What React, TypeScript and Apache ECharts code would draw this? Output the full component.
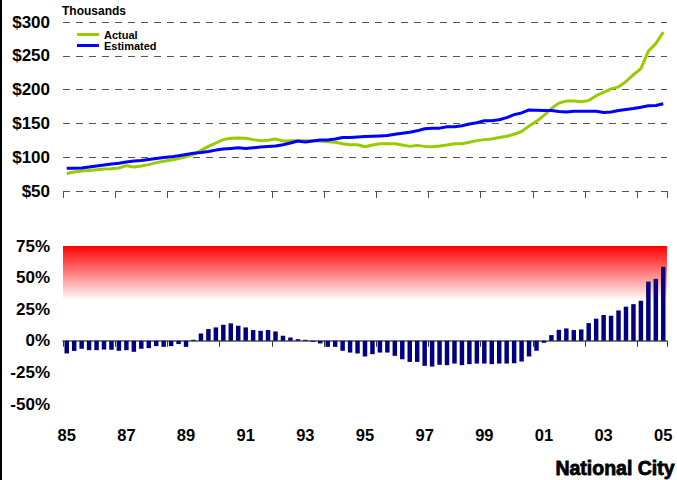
import React, { useEffect, useRef } from "react";
import * as echarts from "echarts";

const years = ["85","86","87","88","89","90","91","92","93","94","95","96","97","98","99","00","01","02","03","04","05"];
const quarters: string[] = [];
years.forEach((y, i) => {
  const n = i === years.length - 1 ? 1 : 4;
  for (let q = 1; q <= n; q++) quarters.push(`${y}Q${q}`);
});

const actual = [
  76, 78, 79.5, 80.5, 81.5, 82.5, 83, 84, 87.5, 85.5,
  87, 89, 92, 94, 96, 98, 100.5, 104, 110, 116,
  121, 126, 128, 128.5, 128, 126, 124.5, 125, 127, 124,
  124.5, 124.5, 124.5, 124.5, 124, 123, 122, 120, 118.5, 118.5,
  115.5, 118, 120, 120, 120, 118, 116, 117.5, 116, 115.5,
  116.5, 118, 120, 120, 122, 124.5, 126, 127, 129, 131,
  134, 138, 146, 153, 162, 172, 180, 183, 183, 182,
  184, 191, 196, 201, 204, 212, 222, 231, 257, 268,
  285,
];

const estimated = [
  83.5, 83.5, 84, 85.5, 87, 88.5, 90, 91, 93, 94.5,
  95, 96.5, 98, 99.5, 100.5, 102, 104, 106, 107, 108.5,
  110.5, 112, 113, 114, 113, 114, 115, 116, 116.5, 118.5,
  121, 124, 122.5, 124, 125.5, 125.5, 127, 129, 129, 130,
  130.5, 131, 131.5, 132, 134, 135.5, 137, 139, 142, 143,
  143, 145, 145, 146.5, 149, 151, 154, 154, 155.5, 158.5,
  163, 165.5, 170, 169.5, 169, 169, 167.5, 167, 168, 168,
  168, 168, 166, 167, 169, 170.5, 172, 174, 176, 176.5,
  179,
];

const gapPct = [
  -10, -8, -6.3, -7.4, -7.4, -6.9, -7.1, -7.9, -7.4, -8.7,
  -6.3, -5.8, -4.2, -4.8, -4.2, -2.6, -4.8, 0.8, 5.8, 9.3,
  10.6, 12.7, 13.8, 11.9, 10.6, 8.5, 7.9, 8.5, 7.4, 4,
  2.6, 1.3, 0.8, -0.8, -2.1, -4.8, -4.8, -7.9, -9.3, -10,
  -12.4, -10.6, -9.3, -9.3, -11.9, -14.6, -16.7, -16.7, -19.8, -20.4,
  -19, -19.3, -18, -19.3, -18.5, -18, -18, -18.5, -18, -18,
  -17.7, -16.4, -12.4, -7.9, -1.6, 4.5, 8.7, 9.8, 8.5, 9,
  14, 17.5, 20.4, 19.8, 24, 27, 29, 31.7, 46.8, 49,
  58.5,
];

const priceTicks = { min: 50, max: 300, interval: 50 };
const pctTicks = { min: -50, max: 75, interval: 25 };
const warningBand = [32, 75];

const FONT = "'Liberation Sans', Arial, sans-serif";

export default function App() {
  const ref = useRef<HTMLDivElement>(null);
  useEffect(() => {
    if (!ref.current) return;
    const chart = echarts.init(ref.current, null, { renderer: "svg" });
    const labelStyle = { color: "#000", fontFamily: FONT, fontWeight: "bold" as const, fontSize: 17 };
    chart.setOption({
      animation: false,
      backgroundColor: "#fff",
      textStyle: { fontFamily: FONT },
      grid: [
        { left: 63, right: 10, top: 22, height: 169 },
        { left: 63, right: 10, top: 246, height: 158 },
      ],
      legend: {
        orient: "vertical",
        left: 77,
        top: 29,
        itemWidth: 22,
        itemHeight: 3,
        itemGap: 0,
        padding: 0,
        icon: "rect",
        textStyle: { fontFamily: FONT, fontWeight: "bold", fontSize: 11, lineHeight: 11, color: "#000" },
        data: ["Actual", "Estimated"],
      },
      xAxis: [
        {
          type: "category",
          gridIndex: 0,
          data: quarters,
          boundaryGap: true,
          axisLine: { show: false },
          axisTick: { show: true, interval: 6, length: 7, lineStyle: { color: "#555" } },
          axisLabel: { show: false },
        },
        {
          type: "category",
          gridIndex: 1,
          data: quarters,
          position: "bottom",
          boundaryGap: true,
          axisLine: { show: true, onZero: true, lineStyle: { color: "#555", width: 1.5 } },
          axisTick: { show: true, interval: 6, length: 6, lineStyle: { color: "#333" } },
          axisLabel: { show: false },
        },
        {
          type: "category",
          gridIndex: 1,
          data: quarters,
          position: "bottom",
          boundaryGap: true,
          axisLine: { show: false, onZero: false },
          axisTick: { show: false },
          axisLabel: {
            ...labelStyle,
            fontSize: 16.5,
            interval: 7,
            margin: 22,
            formatter: (v: string) => v.slice(0, 2),
          },
        },
      ],
      yAxis: [
        {
          type: "value",
          gridIndex: 0,
          ...priceTicks,
          axisLine: { show: false },
          axisTick: { show: false },
          axisLabel: { ...labelStyle, margin: 13, formatter: (v: number) => `$${v}` },
          splitLine: { show: true, lineStyle: { color: "#555", width: 1.2, type: [7, 6] } },
        },
        {
          type: "value",
          gridIndex: 1,
          ...pctTicks,
          axisLine: { show: false },
          axisTick: { show: false },
          axisLabel: { ...labelStyle, margin: 13, formatter: (v: number) => `${v}%` },
          splitLine: { show: false },
        },
      ],
      series: [
        {
          name: "Actual",
          type: "line",
          xAxisIndex: 0,
          yAxisIndex: 0,
          data: actual,
          showSymbol: false,
          symbol: "none",
          color: "#99CC00",
          lineStyle: { width: 3, color: "#99CC00" },
          z: 3,
        },
        {
          name: "Estimated",
          type: "line",
          xAxisIndex: 0,
          yAxisIndex: 0,
          data: estimated,
          showSymbol: false,
          symbol: "none",
          color: "#0000FF",
          lineStyle: { width: 3, color: "#0000FF" },
          z: 4,
        },
        {
          name: "Gap",
          type: "bar",
          xAxisIndex: 1,
          yAxisIndex: 1,
          data: gapPct,
          barWidth: "60%",
          itemStyle: { color: "#000080" },
          markArea: {
            silent: true,
            itemStyle: {
              color: {
                type: "linear",
                x: 0, y: 0, x2: 0, y2: 1,
                colorStops: [
                  { offset: 0, color: "#FF0000" },
                  { offset: 1, color: "#FFFFFF" },
                ],
              },
            },
            data: [[{ yAxis: warningBand[0] }, { yAxis: warningBand[1] }]],
          },
        },
      ],
      graphic: [
        { type: "rect", left: 0, top: 0, shape: { width: 2, height: 480 }, style: { fill: "#000" } },
        {
          type: "text",
          left: 62,
          top: 5,
          style: { text: "Thousands", fontFamily: FONT, fontWeight: "bold", fontSize: 12, fill: "#000" },
        },
        {
          type: "text",
          right: 2,
          top: 458,
          style: {
            text: "National City",
            fontFamily: FONT,
            fontWeight: "bold",
            fontSize: 19.5,
            fill: "#000",
            stroke: "#000",
            lineWidth: 0.8,
          },
        },
      ],
    });
    return () => chart.dispose();
  }, []);
  return (
    <div
      ref={ref}
      style={{ position: "fixed", left: 0, top: 0, width: 677, height: 480, background: "#fff" }}
    />
  );
}
